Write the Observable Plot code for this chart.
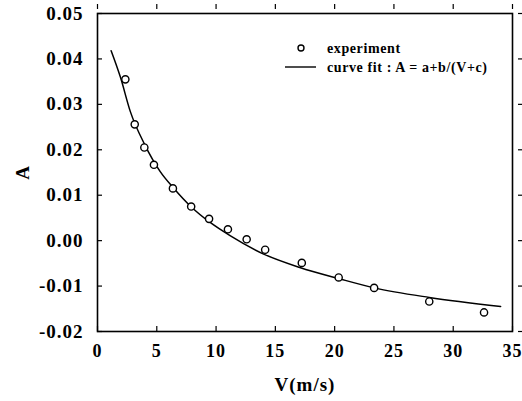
<!DOCTYPE html>
<html><head><meta charset="utf-8">
<script src="https://cdn.jsdelivr.net/npm/d3@7"></script>
<script src="https://cdn.jsdelivr.net/npm/@observablehq/plot@0.6"></script>
<style>
body{margin:0;background:#fff;}
#wrap{position:relative;width:522px;height:401px;}
#legend{position:absolute;left:0;top:0;pointer-events:none;}
#legend text{font-family:"Liberation Serif",serif;font-weight:bold;font-size:14px;letter-spacing:0.6px;fill:#000;}
</style></head><body><div id="wrap"></div>
<script>
// experiment points
const expV = [2.35, 3.14, 3.95, 4.76, 6.36, 7.9, 9.41, 11.0, 12.58, 14.14, 17.23, 20.34, 23.33, 27.98, 32.6];
const expA = [0.0355, 0.0256, 0.0205, 0.0167, 0.0115, 0.0075, 0.0048, 0.0025, 0.0003, -0.0020, -0.0049, -0.0081, -0.0104, -0.0134, -0.0158];
// curve fit
const fitV = [1.15, 1.93, 2.77, 3.97, 5.29, 6.41, 7.96, 9.5, 11.18, 13.97, 17.06, 20.42, 23.36, 27.98, 34.0];
const fitA = [0.0418, 0.0360, 0.0284, 0.0212, 0.0152, 0.0116, 0.0073, 0.0040, 0.0011, -0.0029, -0.0059, -0.0084, -0.0104, -0.0125, -0.0145];
const xTicks = [0, 5, 10, 15, 20, 25, 30, 35];
const yTicks = [-0.02, -0.01, 0.00, 0.01, 0.02, 0.03, 0.04, 0.05];
const xLabel = "V(m/s)";
const yLabel = "A";
const legendLabels = ["experiment", "curve fit : A = a+b/(V+c)"];

const expData = expV.map((v, i) => ({V: v, A: expA[i]}));
const fitData = fitV.map((v, i) => ({V: v, A: fitA[i]}));
const fmt = d => d.toFixed(2);
const none = () => "";

const chart = Plot.plot({
  width: 522, height: 401,
  marginLeft: 97, marginRight: 10, marginTop: 13, marginBottom: 70,
  style: {fontFamily: "'Liberation Serif', serif", fontSize: "19px", fontWeight: "bold", letterSpacing: "1px", color: "#000", background: "#fff"},
  x: {domain: [0, 35]},
  y: {domain: [-0.02, 0.05]},
  marks: [
    Plot.frame({stroke: "#000", strokeWidth: 1.6}),
    // label axes
    Plot.axisX(xTicks, {anchor: "bottom", tickSize: 0, tickPadding: 13, tickFormat: d => String(d), label: null, fontSize: 18, style: {letterSpacing: "0px"}}),
    Plot.axisX({anchor: "bottom", ticks: [], label: xLabel, labelAnchor: "center", labelArrow: "none", labelOffset: 59, fontSize: 19}),
    Plot.axisY(yTicks, {anchor: "left", tickSize: 0, tickPadding: 14, tickFormat: fmt, label: yLabel, labelAnchor: "center", labelArrow: "none", labelOffset: 82, fontSize: 19}),
    // inward tick marks
    Plot.axisX(xTicks, {anchor: "bottom", tickSize: 5, dy: -5, tickFormat: none, label: null, strokeWidth: 1.2}),
    Plot.axisX(xTicks, {anchor: "top", tickSize: 5, dy: -5, tickFormat: none, label: null, strokeWidth: 1.2}),
    Plot.axisY(yTicks, {anchor: "left", tickSize: 5, dx: 5, tickFormat: none, label: null, strokeWidth: 1.2}),
    Plot.axisY(yTicks, {anchor: "right", tickSize: 5, dx: 5, tickFormat: none, label: null, strokeWidth: 1.2}),
    Plot.line(fitData, {x: "V", y: "A", curve: "monotone-x", stroke: "#000", strokeWidth: 1.5}),
    Plot.dot(expData, {x: "V", y: "A", r: 3.6, stroke: "#000", fill: "#fff", strokeWidth: 1.4})
  ]
});
const wrap = document.getElementById("wrap");
wrap.appendChild(chart);

// legend overlay
const ns = "http://www.w3.org/2000/svg";
const lg = document.createElementNS(ns, "svg");
lg.setAttribute("id", "legend");
lg.setAttribute("width", 522);
lg.setAttribute("height", 401);
lg.innerHTML = `
  <circle cx="301" cy="48" r="3" fill="#fff" stroke="#000" stroke-width="1.4"></circle>
  <text x="327" y="53">${legendLabels[0]}</text>
  <line x1="285" x2="316" y1="67" y2="67" stroke="#000" stroke-width="1.4"></line>
  <text x="327" y="72">${legendLabels[1]}</text>`;
wrap.appendChild(lg);
</script>
</body></html>
